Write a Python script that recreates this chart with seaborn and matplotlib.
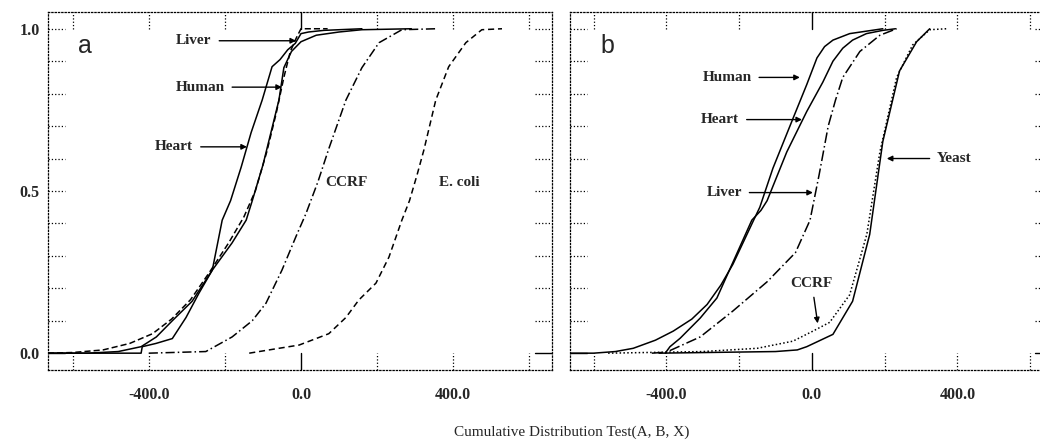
import numpy as np
import pandas as pd
import matplotlib
matplotlib.use('Agg')
import matplotlib.pyplot as plt
import seaborn as sns

sns.set_theme(style='white')
plt.rcParams['font.family'] = ['Liberation Serif', 'DejaVu Serif']

"""
Curves read off the scanned figure (x = test value, y = cumulative fraction)
"""
# panel a
a_heart_x = [-665, -420, -417, -381, -338, -302, -268, -233, -207, -185, -157, -131, -102, -76, -55, -35, -15, 0, 20, 60, 160]
a_heart_y = [0.0, 0.0, 0.02, 0.03, 0.045, 0.11, 0.185, 0.256, 0.41, 0.47, 0.574, 0.68, 0.78, 0.883, 0.905, 0.935, 0.955, 0.985, 0.99, 0.995, 1.0]

a_human_x = [-665, -560, -480, -420, -380, -338, -286, -233, -181, -144, -128, -100, -79, -58, -45, -25, 0, 40, 100, 160, 290]
a_human_y = [0.0, 0.0, 0.005, 0.02, 0.05, 0.10, 0.16, 0.256, 0.34, 0.41, 0.47, 0.58, 0.68, 0.78, 0.88, 0.93, 0.96, 0.98, 0.99, 0.997, 1.0]

a_liver_x = [-665, -600, -520, -450, -390, -340, -290, -240, -190, -150, -120, -90, -65, -45, -28, -13, 0, 70]
a_liver_y = [0.0, 0.002, 0.01, 0.03, 0.06, 0.105, 0.165, 0.25, 0.34, 0.42, 0.5, 0.62, 0.74, 0.85, 0.93, 0.97, 1.0, 1.0]

a_ccrf_x = [-400, -250, -181, -128, -92, -50, -13, 13, 45, 73, 118, 160, 205, 265, 355]
a_ccrf_y = [0.0, 0.005, 0.05, 0.10, 0.154, 0.256, 0.36, 0.43, 0.53, 0.63, 0.78, 0.88, 0.957, 0.997, 1.0]

a_ecoli_x = [-136, -58, -5, 73, 118, 152, 197, 231, 265, 285, 305, 323, 354, 388, 433, 475, 528]
a_ecoli_y = [0.0, 0.015, 0.025, 0.06, 0.11, 0.164, 0.216, 0.296, 0.41, 0.47, 0.55, 0.627, 0.78, 0.883, 0.957, 0.997, 1.0]

# panel b
b_human_x = [-665, -600, -540, -491, -430, -381, -330, -288, -250, -217, -160, -143, -107, -52, -14, 14, 35, 58, 104, 195]
b_human_y = [0.0, 0.0, 0.005, 0.015, 0.04, 0.068, 0.105, 0.15, 0.21, 0.274, 0.41, 0.45, 0.57, 0.723, 0.828, 0.91, 0.945, 0.965, 0.985, 1.0]

b_heart_x = [-403, -390, -362, -307, -261, -217, -165, -140, -123, -69, -14, 30, 58, 85, 112, 150, 195, 230]
b_heart_y = [0.0, 0.02, 0.046, 0.108, 0.17, 0.28, 0.41, 0.44, 0.47, 0.62, 0.745, 0.835, 0.90, 0.94, 0.965, 0.985, 0.995, 1.0]

b_liver_x = [-440, -400, -307, -217, -123, -45, -5, 20, 45, 65, 85, 132, 187, 233]
b_liver_y = [0.0, 0.003, 0.05, 0.13, 0.22, 0.31, 0.41, 0.55, 0.70, 0.78, 0.85, 0.93, 0.98, 1.0]

b_ccrf_x = [-560, -300, -150, -52, 3, 49, 104, 151, 187, 233, 277, 324, 370]
b_ccrf_y = [0.0, 0.005, 0.015, 0.037, 0.068, 0.095, 0.18, 0.366, 0.62, 0.85, 0.95, 0.997, 1.0]

b_yeast_x = [-420, -100, -40, -14, 58, 112, 159, 195, 241, 288, 324]
b_yeast_y = [0.0, 0.005, 0.01, 0.02, 0.058, 0.16, 0.366, 0.652, 0.87, 0.96, 1.0]

x_ticks = [-400, 0, 400]
x_tick_labels = ['-400.0', '0.0', '400.0']
y_ticks = [0.0, 0.5, 1.0]
y_tick_labels = ['0.0', '0.5', '1.0']


def draw_curve(ax, xs, ys, ls):
    sns.lineplot(x=xs, y=ys, ax=ax, color='black', lw=1.1, linestyle=ls,
                 sort=False, estimator=None)


def frame(ax):
    ax.set_xlim(-665, 660)
    ax.set_ylim(-0.052, 1.052)
    for s in ax.spines.values():
        s.set_linestyle(':')
        s.set_linewidth(0.9)
        s.set_color('black')
    # dotted inward ticks like the original plot
    for xv in [-600, -400, -200, 200, 400, 600]:
        ax.axvline(xv, 0, 0.047, ls=':', lw=0.9, color='black')
        ax.axvline(xv, 0.953, 1, ls=':', lw=0.9, color='black')
    ax.axvline(0, 0, 0.047, lw=1.0, color='black')
    ax.axvline(0, 0.953, 1, lw=1.0, color='black')
    for yv in np.arange(0.1, 1.01, 0.1):
        ax.axhline(yv, 0, 0.035, ls=':', lw=0.9, color='black')
        ax.axhline(yv, 0.965, 1, ls=':', lw=0.9, color='black')
    ax.axhline(0, 0.965, 1, lw=1.0, color='black')
    ax.axhline(0, 0, 0.035, lw=1.0, color='black')
    ax.set_xticks(x_ticks)
    ax.set_xticklabels(x_tick_labels, fontsize=11.5, fontweight='bold')
    ax.tick_params(axis='both', length=0, pad=12)
    ax.set_xlabel('')
    ax.set_ylabel('')


def label(ax, txt, xy, xytext):
    ax.annotate(txt, xy=xy, xytext=xytext, ha='center', va='center',
                fontsize=11, fontweight='bold',
                arrowprops=dict(arrowstyle='-|>', color='black', lw=1.0,
                                mutation_scale=8, shrinkA=3, shrinkB=0))


fig = plt.figure(figsize=(10.4, 4.4), dpi=100)
ax1 = fig.add_axes([0.046, 0.159, 0.485, 0.814])
ax2 = fig.add_axes([0.548, 0.159, 0.4635, 0.814])

# panel a
draw_curve(ax1, a_heart_x, a_heart_y, '-')
draw_curve(ax1, a_human_x, a_human_y, '-')
draw_curve(ax1, a_liver_x, a_liver_y, (0, (4, 2)))
draw_curve(ax1, a_ccrf_x, a_ccrf_y, (0, (6, 2, 1, 2)))
draw_curve(ax1, a_ecoli_x, a_ecoli_y, (0, (4, 2.5)))
frame(ax1)
ax1.set_yticks(y_ticks)
ax1.set_yticklabels(y_tick_labels, fontsize=11.5, fontweight='bold')
ax1.tick_params(axis='y', pad=6)
ax1.text(0.073, 0.905, 'a', transform=ax1.transAxes, fontsize=18,
         family='Liberation Sans', va='center', ha='center')
label(ax1, 'Liver', (-13, 0.963), (-281, 0.963))
label(ax1, 'Human', (-50, 0.82), (-265, 0.82))
label(ax1, 'Heart', (-142, 0.636), (-333, 0.636))
ax1.text(118, 0.525, 'CCRF', fontsize=11, fontweight='bold', ha='center', va='center')
ax1.text(415, 0.525, 'E. coli', fontsize=11, fontweight='bold', ha='center', va='center')

# panel b
draw_curve(ax2, b_human_x, b_human_y, '-')
draw_curve(ax2, b_heart_x, b_heart_y, '-')
draw_curve(ax2, b_liver_x, b_liver_y, (0, (7, 2, 1, 2)))
draw_curve(ax2, b_ccrf_x, b_ccrf_y, (0, (1, 1.5)))
draw_curve(ax2, b_yeast_x, b_yeast_y, '-')
frame(ax2)
ax2.set_yticks(y_ticks)
ax2.set_yticklabels([])
ax2.text(0.077, 0.905, 'b', transform=ax2.transAxes, fontsize=18,
         family='Liberation Sans', va='center', ha='center')
label(ax2, 'Human', (-33, 0.85), (-233, 0.85))
label(ax2, 'Heart', (-27, 0.72), (-252, 0.72))
label(ax2, 'Liver', (3, 0.495), (-241, 0.495))
label(ax2, 'Yeast', (206, 0.60), (392, 0.60))
label(ax2, 'CCRF', (16, 0.092), (0, 0.215))

fig.text(0.55, 0.018, 'Cumulative Distribution Test(A, B, X)', ha='center',
         va='center', fontsize=11)

fig.savefig('out.png', dpi=100)
